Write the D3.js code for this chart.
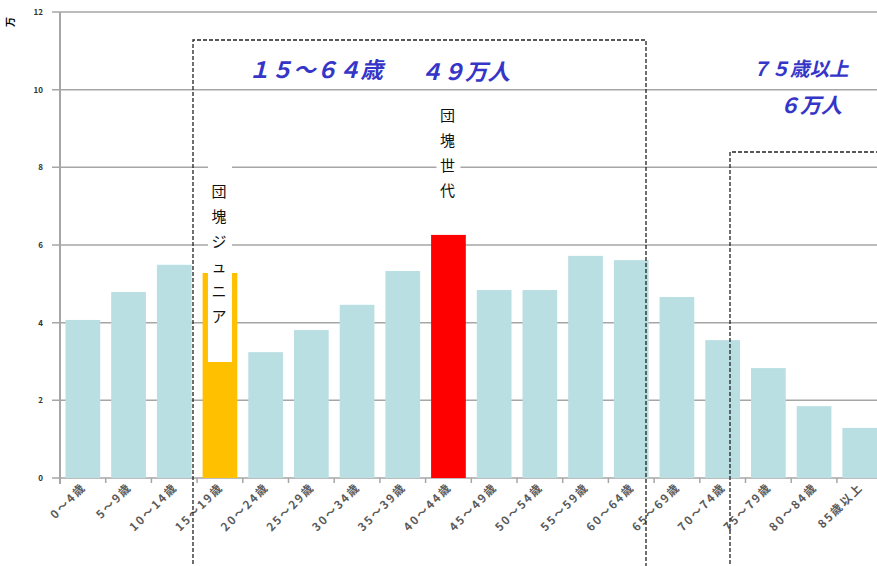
<!DOCTYPE html>
<html>
<head>
<meta charset="utf-8">
<script src="https://cdn.jsdelivr.net/npm/d3@7"></script>
<style>
  body { margin: 0; background: #fff; }
  svg { display: block; font-family: "Noto Sans CJK JP", sans-serif; }
</style>
</head>
<body>
<svg id="chart" width="877" height="566"></svg>
<script>
const categories = ['0～4歳', '5～9歳', '10～14歳', '15～19歳', '20～24歳', '25～29歳', '30～34歳',
  '35～39歳', '40～44歳', '45～49歳', '50～54歳', '55～59歳', '60～64歳', '65～69歳', '70～74歳',
  '75～79歳', '80～84歳', '85歳以上'];
const values = [4.07, 4.79, 5.49, 5.28, 3.24, 3.81, 4.46, 5.33, 6.26, 4.84, 4.84, 5.72, 5.61,
  4.66, 3.55, 2.83, 1.85, 1.29];
const yTicks = [0, 2, 4, 6, 8, 10, 12];
const highlight = { '15～19歳': '#ffc000', '40～44歳': '#ff0000' };

const svg = d3.select('#chart');
const plotLeft = 60, plotTop = 12, plotBottom = 478;

const x = d3.scaleBand()
  .domain(categories)
  .range([plotLeft, plotLeft + 45.7 * categories.length])
  .paddingInner(0.24)
  .paddingOuter(0.12);

const y = d3.scaleLinear().domain([0, 12]).range([plotBottom, plotTop]);

// grid lines
svg.append('g')
  .selectAll('line')
  .data(yTicks)
  .enter().append('line')
  .attr('x1', plotLeft - 8)
  .attr('x2', 877)
  .attr('y1', d => y(d))
  .attr('y2', d => y(d))
  .attr('stroke', '#a6a6a6')
  .attr('stroke-width', 1.5);

// y tick labels
svg.append('g')
  .selectAll('text')
  .data(yTicks)
  .enter().append('text')
  .attr('x', 43)
  .attr('y', d => y(d) + 3)
  .attr('text-anchor', 'end')
  .attr('font-size', 8)
  .attr('font-weight', 'bold')
  .attr('fill', '#333')
  .text(d => d);

svg.append('text')
  .attr('transform', 'translate(14,22) rotate(-90)')
  .attr('font-size', 10)
  .attr('font-weight', 'bold')
  .attr('text-anchor', 'middle')
  .text('万');

// bars
svg.append('g')
  .selectAll('rect')
  .data(categories)
  .enter().append('rect')
  .attr('x', d => x(d))
  .attr('width', x.bandwidth())
  .attr('y', (d, i) => y(values[i]))
  .attr('height', (d, i) => plotBottom - y(values[i]))
  .attr('fill', d => highlight[d] || '#b9dfe3');

// y axis line
svg.append('line')
  .attr('x1', plotLeft).attr('x2', plotLeft)
  .attr('y1', plotTop).attr('y2', plotBottom + 6)
  .attr('stroke', '#a6a6a6').attr('stroke-width', 2);

// x axis ticks at band edges
const step = x.step();
const edges = d3.range(categories.length + 1).map(i => plotLeft + i * step);
svg.append('g')
  .selectAll('line')
  .data(edges)
  .enter().append('line')
  .attr('x1', d => d).attr('x2', d => d)
  .attr('y1', plotBottom).attr('y2', plotBottom + 5)
  .attr('stroke', '#a6a6a6').attr('stroke-width', 1.5);

// x labels
svg.append('g')
  .selectAll('text')
  .data(categories)
  .enter().append('text')
  .attr('transform', d => `translate(${x(d) + x.bandwidth() / 2 + 4},${plotBottom + 10}) rotate(-45)`)
  .attr('text-anchor', 'end')
  .attr('font-size', 11.5)
  .attr('letter-spacing', 2)
  .attr('font-weight', 'bold')
  .attr('fill', '#595959')
  .text(d => d);

// dashed boxes
svg.append('path')
  .attr('d', 'M193,570 V40 H646 V570')
  .attr('fill', 'none')
  .attr('stroke', '#222')
  .attr('stroke-width', 1.3)
  .attr('stroke-dasharray', '4,2');

svg.append('path')
  .attr('d', 'M730,570 V152 H880')
  .attr('fill', 'none')
  .attr('stroke', '#222')
  .attr('stroke-width', 1.3)
  .attr('stroke-dasharray', '4,2');

// vertical callouts
function vlabel(cx, y0, y1, chars, firstY) {
  svg.append('rect')
    .attr('x', cx - 12).attr('y', y0)
    .attr('width', 24).attr('height', y1 - y0)
    .attr('fill', '#fff');
  svg.append('g')
    .selectAll('text')
    .data(chars)
    .enter().append('text')
    .attr('x', cx - 1)
    .attr('y', (d, i) => firstY + i * 25)
    .attr('text-anchor', 'middle')
    .attr('font-size', 15)
    .attr('fill', '#111')
    .text(d => d);
}
vlabel(x('15～19歳') + x.bandwidth() / 2, 165, 362, ['団', '塊', 'ジ', 'ュ', 'ニ', 'ア'], 197);
vlabel(x('40～44歳') + x.bandwidth() / 2, 100, 210, ['団', '塊', '世', '代'], 121);

// group labels
const blue = '#3535c8';
function glabel(tx, ty, txt, size) {
  svg.append('text')
    .attr('x', tx).attr('y', ty)
    .attr('text-anchor', 'start')
    .attr('font-size', size)
    .attr('font-weight', 'bold')
    .attr('font-style', 'italic')
    .attr('fill', blue)
    .text(txt);
}
glabel(248, 78, '１５～６４歳', 22.5);
glabel(420, 80, '４９万人', 22.5);
glabel(751, 76, '７５歳以上', 19.5);
glabel(779, 113, '６万人', 21);
</script>
</body>
</html>
